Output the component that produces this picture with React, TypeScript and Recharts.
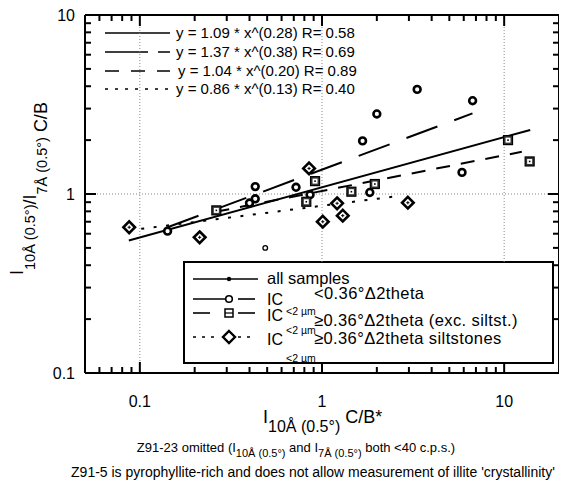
import React from "react";
import { ComposedChart, Scatter, XAxis, YAxis, ReferenceLine } from "recharts";

const FONT = "'Liberation Sans', Arial, Helvetica, sans-serif";

// IC<2um < 0.36 d2theta (circles)
const circleX = [0.142, 0.4, 0.43, 0.43, 0.72, 0.86, 1.67, 1.83, 2.0, 3.33, 5.87, 6.71];
const circleY = [0.62, 0.89, 0.94, 1.1, 1.09, 0.99, 1.98, 1.02, 2.8, 3.84, 1.32, 3.32];
// IC<2um >= 0.36 d2theta, exc. siltstones (squares)
const squareX = [0.263, 0.82, 0.916, 1.45, 1.95, 10.5, 13.8];
const squareY = [0.81, 0.905, 1.18, 1.03, 1.137, 2.0, 1.52];
// IC<2um >= 0.36 d2theta, siltstones (diamonds)
const diamondX = [0.0874, 0.213, 0.849, 1.01, 1.21, 1.3, 2.96];
const diamondY = [0.652, 0.573, 1.39, 0.7, 0.887, 0.757, 0.894];
// sample without IC (Z91-5)
const otherX = [0.488];
const otherY = [0.5];

// fitted power laws, end points as drawn
const fitAllX = [0.087, 13.9];
const fitAllY = [0.55, 2.28];
const fitCircleX = [0.142, 6.7];
const fitCircleY = [0.652, 2.82];
const fitSquareX = [0.26, 12.5];
const fitSquareY = [0.795, 1.72];
const fitDiamondX = [0.087, 2.6];
const fitDiamondY = [0.626, 0.973];

const fitLabels = [
  "y = 1.09 * x^(0.28) R= 0.58",
  "y = 1.37 * x^(0.38) R= 0.69",
  "y = 1.04 * x^(0.20) R= 0.89",
  "y = 0.86 * x^(0.13) R= 0.40",
];

const xDomain = [0.05, 20];
const yDomain = [0.1, 10];
const xTicks = [0.06, 0.07, 0.08, 0.09, 0.1, 0.2, 0.3, 0.4, 0.5, 0.6, 0.7, 0.8, 0.9, 1, 2, 3, 4, 5, 6, 7, 8, 9, 10];
const yTicks = [0.1, 0.2, 0.3, 0.4, 0.5, 0.6, 0.7, 0.8, 0.9, 1, 2, 3, 4, 5, 6, 7, 8, 9, 10];
const majorTicks = [0.1, 1, 10];
// grid lines at x = 1 and 10 stop at the top of the legend box
const legendTopY = 0.417;

const W = 559;
const H = 478;
const M = { top: 7, right: 8, left: 77, bottom: 113 };

const pts = (xs: number[], ys: number[]) => xs.map((x, i) => ({ x, y: ys[i] }));
const isMajor = (v: number) => majorTicks.includes(v);
const tickLen = (v: number) => (isMajor(v) ? 11 : 6);

function BottomTick({ x, y, payload }: any) {
  if (!isMajor(payload.value)) return <g />;
  return (
    <text x={x} y={y + 34} textAnchor="middle" fontSize={16} fontFamily={FONT} fill="#000">
      {payload.value}
    </text>
  );
}

function LeftTick({ x, y, payload }: any) {
  if (!isMajor(payload.value)) return <g />;
  return (
    <text x={x - 10} y={y} dy="0.35em" textAnchor="end" fontSize={16} fontFamily={FONT} fill="#000">
      {payload.value}
    </text>
  );
}

function CircleDot({ cx, cy }: any) {
  return <circle cx={cx} cy={cy} r={3.4} fill="#fff" stroke="#000" strokeWidth={2.6} />;
}

function SquareDot({ cx, cy }: any) {
  return (
    <g>
      <rect x={cx - 4.5} y={cy - 4.5} width={9} height={9} fill="#333" stroke="#000" strokeWidth={1.2} />
      <rect x={cx - 2.5} y={cy - 2.5} width={5} height={5} fill="#fff" />
      <rect x={cx - 0.8} y={cy - 0.8} width={1.6} height={1.6} fill="#000" />
    </g>
  );
}

function DiamondDot({ cx, cy }: any) {
  const r = 5.8;
  return (
    <g>
      <polygon
        points={`${cx},${cy - r} ${cx + r},${cy} ${cx},${cy + r} ${cx - r},${cy}`}
        fill="#fff"
        stroke="#000"
        strokeWidth={2.6}
      />
      <path d={`M${cx - 1.6},${cy}H${cx + 1.6}M${cx},${cy - 1.6}V${cy + 1.6}`} stroke="#000" strokeWidth={1} />
    </g>
  );
}

function SmallDot({ cx, cy }: any) {
  return <circle cx={cx} cy={cy} r={2.3} fill="#fff" stroke="#000" strokeWidth={1.3} />;
}

const noShape = () => <g />;
const axisLine = { stroke: "#000", strokeWidth: 2 };

// inward minor/major tick marks on all four sides of the frame
function FrameTicks() {
  const pw = W - M.left - M.right;
  const ph = H - M.top - M.bottom;
  const lx0 = Math.log10(xDomain[0]);
  const lx1 = Math.log10(xDomain[1]);
  const ly0 = Math.log10(yDomain[0]);
  const ly1 = Math.log10(yDomain[1]);
  const sx = (v: number) => M.left + ((Math.log10(v) - lx0) / (lx1 - lx0)) * pw;
  const sy = (v: number) => M.top + ph - ((Math.log10(v) - ly0) / (ly1 - ly0)) * ph;
  const left = M.left;
  const right = M.left + pw;
  const top = M.top;
  const bottom = M.top + ph;
  const s = { stroke: "#000", strokeWidth: 2 };
  return (
    <svg width={W} height={H} style={{ position: "absolute", left: 0, top: 0, pointerEvents: "none" }}>
      {xTicks.map((v) => (
        <g key={`x${v}`}>
          <line x1={sx(v)} x2={sx(v)} y1={bottom} y2={bottom - tickLen(v)} {...s} />
          <line x1={sx(v)} x2={sx(v)} y1={top} y2={top + tickLen(v)} {...s} />
        </g>
      ))}
      {yTicks.map((v) => (
        <g key={`y${v}`}>
          <line x1={left} x2={left + tickLen(v)} y1={sy(v)} y2={sy(v)} {...s} />
          <line x1={right} x2={right - tickLen(v)} y1={sy(v)} y2={sy(v)} {...s} />
        </g>
      ))}
    </svg>
  );
}

// legends, axis titles and notes; sits underneath the (transparent) chart svg
function Underlay() {
  const t = { fontFamily: FONT, fill: "#000" };
  const ly = [25, 44, 63, 81];
  const dashes = [undefined, "43 10", "14 12", "3 7"];
  return (
    <svg width={W} height={H} style={{ position: "absolute", left: 0, top: 0 }}>
      {/* fit legend */}
      {fitLabels.map((s, i) => (
        <g key={s}>
          <line x1={97} x2={162} y1={ly[i]} y2={ly[i]} stroke="#000" strokeWidth={1.6} strokeDasharray={dashes[i]} />
          <text x={i === 2 ? 170 : 168} y={ly[i] + 5} fontSize={15} {...t}>
            {s}
          </text>
        </g>
      ))}

      {/* group legend */}
      <rect x={176} y={254} width={369} height={101} fill="#fff" stroke="#000" strokeWidth={2} />
      <line x1={185} x2={250} y1={271} y2={271} stroke="#000" strokeWidth={1.6} />
      <circle cx={221} cy={271} r={2.2} fill="#000" />
      <text x={259} y={276} fontSize={16.5} {...t}>all samples</text>

      <line x1={185} x2={219} y1={291} y2={291} stroke="#000" strokeWidth={1.6} />
      <line x1={230} x2={247} y1={291} y2={291} stroke="#000" strokeWidth={1.6} />
      <circle cx={221} cy={291} r={3.3} fill="#fff" stroke="#000" strokeWidth={1.6} />
      <text x={259} y={297} fontSize={16} {...t}>IC</text>
      <text x={278} y={307} fontSize={10.5} {...t}>&lt;2 µm</text>
      <text x={306} y={291} fontSize={16.5} letterSpacing={0.4} {...t}>&lt;0.36°Δ2theta</text>

      <line x1={185} x2={202} y1={305} y2={305} stroke="#000" strokeWidth={1.6} />
      <line x1={230} x2={247} y1={305} y2={305} stroke="#000" strokeWidth={1.6} />
      <rect x={217} y={301} width={8} height={8} fill="#fff" stroke="#000" strokeWidth={1.5} />
      <line x1={217} x2={225} y1={305} y2={305} stroke="#000" strokeWidth={1.2} />
      <text x={259} y={313} fontSize={16} {...t}>IC</text>
      <text x={278} y={326} fontSize={10.5} {...t}>&lt;2 µm</text>
      <text x={306} y={318} fontSize={16.5} letterSpacing={0.4} {...t}>≥0.36°Δ2theta (exc. siltst.)</text>

      <line x1={185} x2={212} y1={329} y2={329} stroke="#000" strokeWidth={1.6} strokeDasharray="3 6" />
      <line x1={230} x2={247} y1={329} y2={329} stroke="#000" strokeWidth={1.6} strokeDasharray="3 6" />
      <polygon points="221,323 227,329 221,335 215,329" fill="#fff" stroke="#000" strokeWidth={2.4} />
      <text x={259} y={337} fontSize={16} {...t}>IC</text>
      <text x={278} y={354} fontSize={10.5} {...t}>&lt;2 µm</text>
      <text x={306} y={336} fontSize={16.5} letterSpacing={0.4} {...t}>≥0.36°Δ2theta siltstones</text>

      {/* axis titles */}
      <text transform="rotate(-90)" x={-267} y={15} fontSize={18} {...t}>
        I<tspan fontSize={14.5} dy={12}>10Å (0.5°)</tspan>
        <tspan fontSize={18} dy={1}>/I</tspan>
        <tspan fontSize={14.5} dy={11}>7Å (0.5°)</tspan>
        <tspan fontSize={18} dy={0}> C/B</tspan>
      </text>
      <text x={255} y={415} fontSize={18} {...t}>
        I<tspan fontSize={16} dy={9}>10Å (0.5°)</tspan>
        <tspan fontSize={18} dy={-9}> C/B*</tspan>
      </text>

      {/* notes */}
      <text x={288} y={444} fontSize={13} textAnchor="middle" {...t}>
        Z91-23 omitted (I<tspan fontSize={11} dy={5}>10Å (0.5°)</tspan>
        <tspan dy={-5}> and I</tspan>
        <tspan fontSize={11} dy={5}>7Å (0.5°)</tspan>
        <tspan dy={-5}> both &lt;40 c.p.s.)</tspan>
      </text>
      <text x={305} y={469} fontSize={14} textAnchor="middle" {...t}>
        Z91-5 is pyrophyllite-rich and does not allow measurement of illite 'crystallinity'
      </text>
    </svg>
  );
}

export default function App() {
  const grid = { stroke: "#888", strokeDasharray: "1 2", strokeWidth: 1 };
  const frame = { stroke: "#000", strokeWidth: 2, ifOverflow: "visible" as const };
  return (
    <div style={{ position: "relative", width: W, height: H }}>
      <Underlay />
      <ComposedChart width={W} height={H} margin={{ top: M.top, right: M.right, bottom: 0, left: 0 }}>
        <XAxis
          dataKey="x"
          type="number"
          scale="log"
          domain={xDomain}
          allowDataOverflow
          ticks={xTicks}
          interval={0}
          tickSize={0}
          tickMargin={0}
          tickLine={false}
          tick={<BottomTick />}
          axisLine={axisLine}
          height={M.bottom}
        />
        <YAxis
          dataKey="y"
          type="number"
          scale="log"
          domain={yDomain}
          allowDataOverflow
          ticks={yTicks}
          interval={0}
          tickSize={0}
          tickMargin={0}
          tickLine={false}
          tick={<LeftTick />}
          axisLine={axisLine}
          width={M.left}
        />
        <ReferenceLine x={0.1} {...grid} />
        <ReferenceLine segment={[{ x: 1, y: legendTopY }, { x: 1, y: yDomain[1] }]} {...grid} />
        <ReferenceLine segment={[{ x: 10, y: legendTopY }, { x: 10, y: yDomain[1] }]} {...grid} />
        <ReferenceLine y={1} {...grid} />
        <ReferenceLine x={xDomain[1]} {...frame} />
        <ReferenceLine y={yDomain[1]} {...frame} />

        <Scatter data={pts(fitAllX, fitAllY)} line={{ stroke: "#000", strokeWidth: 2 }} shape={noShape} isAnimationActive={false} />
        <Scatter data={pts(fitCircleX, fitCircleY)} line={{ stroke: "#000", strokeWidth: 2, strokeDasharray: "33 18" }} shape={noShape} isAnimationActive={false} />
        <Scatter data={pts(fitSquareX, fitSquareY)} line={{ stroke: "#000", strokeWidth: 2, strokeDasharray: "14 11" }} shape={noShape} isAnimationActive={false} />
        <Scatter data={pts(fitDiamondX, fitDiamondY)} line={{ stroke: "#000", strokeWidth: 2, strokeDasharray: "3 9.5" }} shape={noShape} isAnimationActive={false} />

        <Scatter data={pts(otherX, otherY)} shape={<SmallDot />} isAnimationActive={false} />
        <Scatter data={pts(circleX, circleY)} shape={<CircleDot />} isAnimationActive={false} />
        <Scatter data={pts(squareX, squareY)} shape={<SquareDot />} isAnimationActive={false} />
        <Scatter data={pts(diamondX, diamondY)} shape={<DiamondDot />} isAnimationActive={false} />
      </ComposedChart>
      <FrameTicks />
    </div>
  );
}
